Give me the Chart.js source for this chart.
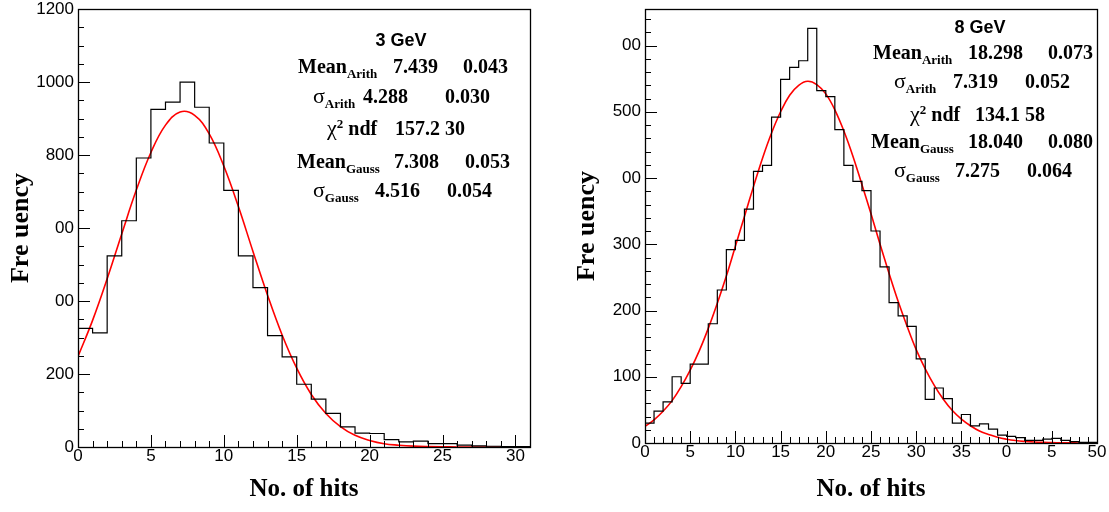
<!DOCTYPE html>
<html>
<head>
<meta charset="utf-8">
<script src="https://cdn.jsdelivr.net/npm/chart.js@4"></script>
<style>
  body { margin: 0; background: #fff; width: 1109px; height: 512px; position: relative; overflow: hidden; }
  canvas { position: absolute; top: 0; }
  .st { position: absolute; font: bold 20px 'Liberation Serif', serif; line-height: 20px; white-space: nowrap; color: #000; }
  .st sub { font-size: 13px; vertical-align: -5px; line-height: 0; }
  .st sup { font-size: 13px; vertical-align: 7px; line-height: 0; }
  .st .sym { font-weight: normal; font-size: 22px; }
  .st.gev { font: bold 18px 'Liberation Sans', sans-serif; line-height: 18px; width: 100px; text-align: center; }
</style>
</head>
<body>
<canvas id="hits3" width="555" height="512" style="left:0"></canvas>
<canvas id="hits8" width="549" height="512" style="left:560px"></canvas>
<script>
// 3 GeV: counts per 1-hit bin, starting at 0
const hits3Counts = [325, 313, 524, 620, 792, 925, 945, 1000, 931, 833, 703, 524, 437, 305, 247,
    172, 131, 92, 55, 38, 37, 20, 14, 16, 9, 9, 5, 3, 2, 1, 1];
// red fit curve read at x = 0, 1, 2 ...
const hits3Fit = [248, 347, 461, 584, 704, 807, 882, 918, 909, 858, 770, 659, 536, 416, 307, 216,
    144, 92, 56, 32, 18, 9, 5, 2.3, 1, 0.4, 0.2, 0.1, 0, 0, 0, 0];
const hits3YTicks = [0, 200, 400, 600, 800, 1000, 1200];
const hits3YLabels = ['0', '200', '00', '00', '800', '1000', '1200'];
const hits3XTicks = [0, 5, 10, 15, 20, 25, 30];
const hits3XLabels = ['0', '5', '10', '15', '20', '25', '30'];

// 8 GeV
const hits8Counts = [30, 48, 62, 100, 90, 119, 119, 180, 231, 292, 306, 353, 410, 419, 492, 549,
    567, 577, 626, 532, 523, 473, 419, 395, 381, 320, 266, 212, 192, 176, 127, 66, 83, 67, 30,
    43, 26, 29, 21, 12, 10, 8, 4, 4, 6, 7, 4, 2, 1, 1];
const hits8Fit = [25, 35, 48, 64, 85, 110, 139, 173, 211, 252, 297, 342, 387, 430, 468, 500, 525,
    540, 546, 541, 527, 503, 471, 433, 390, 346, 300, 256, 214, 176, 141, 112, 87, 66, 49, 36,
    26, 18, 13, 8.6, 5.7, 3.7, 2.4, 1.5, 0.9, 0.6, 0.3, 0.2, 0.1, 0.1, 0];
const hits8YTicks = [0, 100, 200, 300, 400, 500, 600];
const hits8YLabels = ['0', '100', '200', '300', '00', '500', '00'];
const hits8XTicks = [0, 5, 10, 15, 20, 25, 30, 35, 40, 45, 50];
const hits8XLabels = ['0', '5', '10', '15', '20', '25', '30', '35', '0', '5', '50'];

const stats3Title = '3 GeV';
const stats3 = [
    ['Mean', 'Arith', '7.439', '0.043'],
    ['σ', 'Arith', '4.288', '0.030'],
    ['χ2', 'ndf', '157.2 30', ''],
    ['Mean', 'Gauss', '7.308', '0.053'],
    ['σ', 'Gauss', '4.516', '0.054']
];
const stats8Title = '8 GeV';
const stats8 = [
    ['Mean', 'Arith', '18.298', '0.073'],
    ['σ', 'Arith', '7.319', '0.052'],
    ['χ2', 'ndf', '134.1 58', ''],
    ['Mean', 'Gauss', '18.040', '0.080'],
    ['σ', 'Gauss', '7.275', '0.064']
];

// ROOT style frame: full box, ticks pointing inwards on left and bottom only
const frameTicks = {
    id: 'frameTicks',
    afterDatasetsDraw(chart, args, opts) {
        const {ctx, chartArea: a, scales: {x, y}} = chart;
        ctx.save();
        ctx.strokeStyle = '#000';
        ctx.lineWidth = 1;
        ctx.beginPath();
        for (let v = x.min; v <= x.max + 1e-6; v += opts.xMinor) {
            const px = Math.round(x.getPixelForValue(v)) + 0.5;
            const len = Math.abs(v % opts.xMajor) < 1e-6 ? 12 : 6;
            ctx.moveTo(px, a.bottom);
            ctx.lineTo(px, a.bottom - len);
        }
        for (let v = y.min; v <= y.max + 1e-6; v += opts.yMinor) {
            const py = Math.round(y.getPixelForValue(v)) + 0.5;
            const len = Math.abs(v % opts.yMajor) < 1e-6 ? 12 : 6;
            ctx.moveTo(a.left, py);
            ctx.lineTo(a.left + len, py);
        }
        ctx.stroke();
        ctx.lineWidth = 1.3;
        ctx.strokeRect(Math.round(a.left) + 0.5, Math.round(a.top) + 0.5,
            Math.round(a.right - a.left), Math.round(a.bottom - a.top));
        ctx.restore();
    }
};

function histChart(id, counts, fit, xMax, yMax, xTicks, xLabels, yTicks, yLabels, lay) {
    // bin edges: each count holds from its low edge to the next edge
    const steps = counts.map((c, i) => ({x: i, y: c}));
    steps.push({x: counts.length, y: counts[counts.length - 1]});
    const curve = fit.map((v, i) => ({x: i, y: v}));
    const tickFont = {family: "'Liberation Sans', sans-serif", size: 17};
    const titleFont = {family: "'Liberation Serif', serif", size: 25, weight: 'bold'};

    return new Chart(document.getElementById(id), {
        type: 'line',
        data: {
            datasets: [{
                data: steps,
                stepped: 'before',
                borderColor: '#000',
                borderWidth: 1.2,
                pointRadius: 0,
                fill: false
            }, {
                data: curve,
                borderColor: '#ff0000',
                borderWidth: 1.6,
                pointRadius: 0,
                tension: 0.4,
                fill: false
            }]
        },
        options: {
            responsive: false,
            animation: false,
            events: [],
            layout: {padding: {top: lay.top, right: lay.right, left: 0, bottom: 0}},
            plugins: {
                legend: {display: false},
                tooltip: {enabled: false},
                frameTicks: lay.ticks
            },
            scales: {
                x: {
                    type: 'linear',
                    min: 0,
                    max: xMax,
                    grid: {display: false, drawTicks: false},
                    border: {display: false},
                    afterBuildTicks: s => { s.ticks = xTicks.map(v => ({value: v})); },
                    afterFit: s => { s.height = lay.xHeight; },
                    ticks: {
                        autoSkip: false,
                        maxRotation: 0,
                        padding: 1,
                        color: '#000',
                        font: Object.assign({lineHeight: 1}, tickFont),
                        callback: v => xLabels[xTicks.indexOf(v)]
                    },
                    title: {
                        display: true,
                        text: 'No. of hits',
                        color: '#000',
                        font: titleFont,
                        padding: {top: 0, bottom: 7}
                    }
                },
                y: {
                    min: 0,
                    max: yMax,
                    grid: {display: false, drawTicks: false},
                    border: {display: false},
                    afterBuildTicks: s => { s.ticks = yTicks.map(v => ({value: v})); },
                    afterFit: s => { s.width = lay.yWidth; },
                    ticks: {
                        autoSkip: false,
                        padding: 4,
                        color: '#000',
                        font: Object.assign({lineHeight: 0.6}, tickFont),
                        callback: v => yLabels[yTicks.indexOf(v)]
                    },
                    title: {
                        display: true,
                        text: 'Fre uency',
                        color: '#000',
                        font: Object.assign({}, titleFont, {size: 26}),
                        padding: {top: lay.yTitlePad, bottom: 0}
                    }
                }
            }
        },
        plugins: [frameTicks]
    });
}

histChart('hits3', hits3Counts, hits3Fit, 31, 1200, hits3XTicks, hits3XLabels, hits3YTicks, hits3YLabels,
    {top: 9, right: 25, xHeight: 65, yWidth: 78, yTitlePad: 6,
     ticks: {xMinor: 1, xMajor: 5, yMinor: 50, yMajor: 200}});
histChart('hits8', hits8Counts, hits8Fit, 50, 655, hits8XTicks, hits8XLabels, hits8YTicks, hits8YLabels,
    {top: 6, right: 12, xHeight: 69, yWidth: 85, yTitlePad: 12,
     ticks: {xMinor: 1, xMajor: 5, yMinor: 20, yMajor: 100}});

// statistics boxes (text placed by baseline)
function put(cls, html, left, baseline, asc) {
    const d = document.createElement('div');
    d.className = 'st ' + cls;
    d.innerHTML = html;
    d.style.left = left + 'px';
    d.style.top = (baseline - asc) + 'px';
    document.body.appendChild(d);
}

function labelHtml(row) {
    if (row[0] === 'χ2') return '<span class="sym">χ</span><sup>2</sup> ndf';
    if (row[0] === 'σ') return '<span class="sym">σ</span><sub>' + row[1] + '</sub>';
    return row[0] + '<sub>' + row[1] + '</sub>';
}

function statsBox(title, rows, pos) {
    put('gev', title, pos.title[0] - 50, pos.title[1], 15.2);
    rows.forEach((row, i) => {
        const p = pos.rows[i];
        put('', labelHtml(row), p[0], p[1], 16.9);
        put('', row[2], p[2], p[1], 16.9);
        if (row[3]) put('', row[3], p[3], p[1], 16.9);
    });
}

statsBox(stats3Title, stats3, {
    title: [401, 46],
    rows: [[298, 73, 393, 463], [313, 103, 363, 445], [327, 135, 395, 0],
           [297, 168, 394, 465], [313, 197, 375, 447]]
});
statsBox(stats8Title, stats8, {
    title: [980, 33],
    rows: [[873, 59, 968, 1048], [894, 88, 953, 1025], [910, 121, 975, 0],
           [871, 148, 968, 1048], [894, 177, 955, 1027]]
});
</script>
</body>
</html>
